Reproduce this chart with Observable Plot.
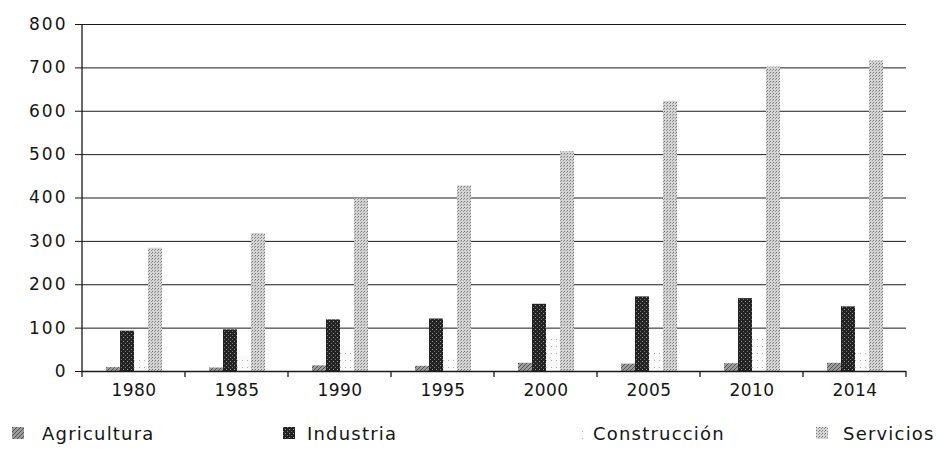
<!DOCTYPE html>
<html><head><meta charset="utf-8">
<script src="https://cdn.jsdelivr.net/npm/d3@7"></script>
<script src="https://cdn.jsdelivr.net/npm/@observablehq/plot@0.6"></script>
<style>
body{margin:0;background:#fff;font-family:"DejaVu Sans",sans-serif;}
#wrap{position:relative;width:949px;height:452px;overflow:hidden;}
.lt{position:absolute;top:425px;font-size:18px;line-height:18px;letter-spacing:1.2px;color:#151515;white-space:nowrap;}
#legsvg{position:absolute;left:0;top:400px;}
</style></head><body><div id="wrap"></div>
<script>
const years = ["1980","1985","1990","1995","2000","2005","2010","2014"];
const sectors = ["Agricultura","Industria","Construcción","Servicios"];
const agricultura = [9, 8, 13, 12, 19, 17, 18, 19];
const industria = [93, 96, 119, 121, 155, 172, 168, 149];
const construccion = [25, 35, 48, 30, 82, 44, 74, 42];
const servicios = [284, 318, 398, 428, 507, 623, 702, 716];
const yTicks = [0, 100, 200, 300, 400, 500, 600, 700, 800];
const patternIds = ["pAgr", "pInd", "pCon", "pSer"];
const fills = patternIds.map(id => `url(#${id})`);

const series = [agricultura, industria, construccion, servicios];
const data = years.flatMap((yr, i) => sectors.map((s, j) => ({year: yr, sector: s, value: series[j][i]})));

const chart = Plot.plot({
  width: 949, height: 400,
  marginLeft: 80, marginRight: 41, marginTop: 24, marginBottom: 29,
  style: {fontFamily: "DejaVu Sans", fontSize: "17px", color: "#151515", background: "#fff"},
  fx: {domain: years, paddingInner: 0, paddingOuter: 0, label: null, tickSize: 0, tickPadding: 12, axis: "bottom"},
  x: {domain: sectors, paddingInner: 0, paddingOuter: 1.45, axis: null},
  y: {domain: [0, 800], ticks: 8, tickSize: 7, tickPadding: 8, label: null},
  color: {domain: sectors, range: fills},
  marks: [
    Plot.ruleY(yTicks, {stroke: "#1a1a1a", strokeWidth: 1}),
    Plot.barY(data, {fx: "year", x: "sector", y: "value", fill: "sector"}),
    Plot.ruleY([0], {stroke: "#1a1a1a", strokeWidth: 1.5})
  ]
});

function addPatterns(sel) {
  const defs = sel.append("defs");
  // Agricultura: mid gray with diagonal hatching
  let p = defs.append("pattern").attr("id", "pAgr").attr("patternUnits", "userSpaceOnUse").attr("width", 4).attr("height", 4);
  p.append("rect").attr("width", 4).attr("height", 4).attr("fill", "#9c9c9c");
  p.append("path").attr("d", "M0,4L4,0M-1,1L1,-1M3,5L5,3").attr("stroke", "#555").attr("stroke-width", 1);
  // Industria: dark with light stipple
  p = defs.append("pattern").attr("id", "pInd").attr("patternUnits", "userSpaceOnUse").attr("width", 4).attr("height", 4);
  p.append("rect").attr("width", 4).attr("height", 4).attr("fill", "#222");
  p.append("rect").attr("x", 1).attr("y", 1).attr("width", 1).attr("height", 1).attr("fill", "#9a9a9a");
  p.append("rect").attr("x", 3).attr("y", 3).attr("width", 1).attr("height", 1).attr("fill", "#777");
  // Construcción: very sparse dots
  p = defs.append("pattern").attr("id", "pCon").attr("patternUnits", "userSpaceOnUse").attr("width", 5).attr("height", 7);
  p.append("rect").attr("width", 5).attr("height", 7).attr("fill", "#fafafa");
  p.append("rect").attr("x", 2).attr("y", 3).attr("width", 1).attr("height", 1).attr("fill", "#aaa");
  // Servicios: light gray stipple
  p = defs.append("pattern").attr("id", "pSer").attr("patternUnits", "userSpaceOnUse").attr("width", 3).attr("height", 3);
  p.append("rect").attr("width", 3).attr("height", 3).attr("fill", "#d4d4d4");
  p.append("rect").attr("x", 0).attr("y", 0).attr("width", 1).attr("height", 1).attr("fill", "#777");
  p.append("rect").attr("x", 2).attr("y", 1).attr("width", 1).attr("height", 1).attr("fill", "#999");
}

const svg = d3.select(chart);
addPatterns(svg);
svg.selectAll('g[aria-label="y-axis tick label"] text').style("letter-spacing", "2px");
svg.selectAll('g[aria-label="fx-axis tick label"] text').style("letter-spacing", "0.5px");

// y axis line and band-boundary ticks, from Plot's own scales
const fx = chart.scale("fx"), y = chart.scale("y");
const x0 = fx.apply(years[0]);
const y0 = y.apply(0), yTop = y.apply(800);
const g = svg.append("g").attr("stroke", "#1a1a1a").attr("stroke-width", 1.3);
g.append("line").attr("x1", x0).attr("x2", x0).attr("y1", yTop).attr("y2", y0 + 6);
years.forEach(yr => {
  const xb = fx.apply(yr) + fx.bandwidth;
  g.append("line").attr("x1", xb).attr("x2", xb).attr("y1", y0).attr("y2", y0 + 6);
});

const wrap = document.getElementById("wrap");
wrap.appendChild(chart);

// legend
const legendPos = [[12, 42], [283, 307], [579, 593], [816, 843]];
const leg = d3.select(wrap).append("svg").attr("id", "legsvg").attr("width", 949).attr("height", 52);
addPatterns(leg.attr("id", "legsvg"));
leg.select("defs").selectAll("pattern").attr("id", function() { return this.id + "L"; });
sectors.forEach((s, i) => {
  leg.append("rect").attr("x", legendPos[i][0]).attr("y", 27)
    .attr("width", i === 2 ? 4 : 12).attr("height", 12)
    .attr("fill", `url(#${patternIds[i]}L)`);
  const t = document.createElement("div");
  t.className = "lt";
  t.style.left = legendPos[i][1] + "px";
  t.textContent = s;
  wrap.appendChild(t);
});
</script></body></html>
